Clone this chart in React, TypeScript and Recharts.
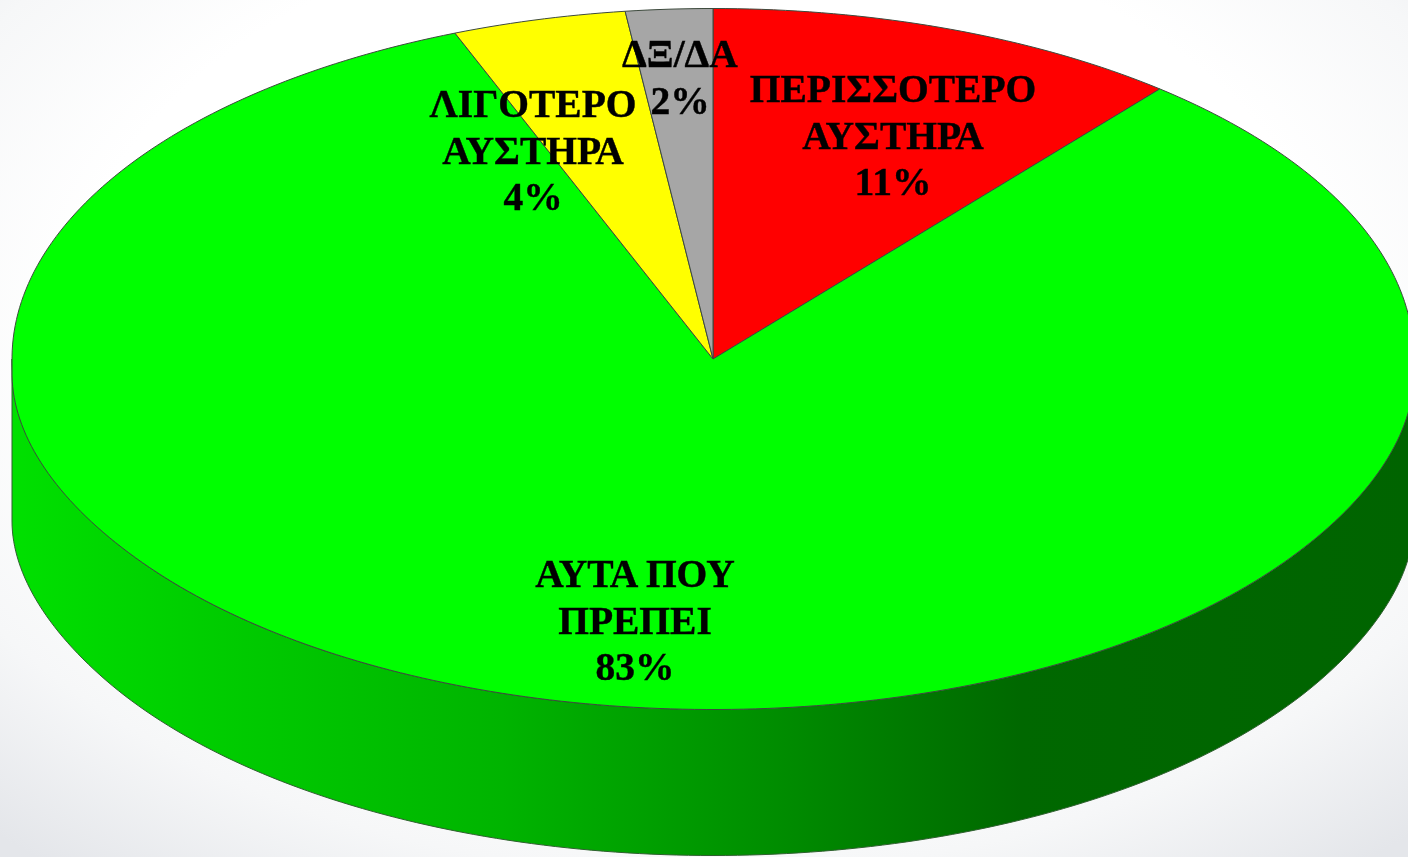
import React from "react";
import { PieChart, Pie } from "recharts";

const WIDTH = 1408;
const HEIGHT = 857;
const CX = 713;
const CY = 359;
const RX = 701;
const SQUASH = 0.5;
const DEPTH = 146;

const categories = ["ΠΕΡΙΣΣΟΤΕΡΟ ΑΥΣΤΗΡΑ", "ΑΥΤΑ ΠΟΥ ΠΡΕΠΕΙ", "ΛΙΓΟΤΕΡΟ ΑΥΣΤΗΡΑ", "ΔΞ/ΔΑ"];
const values = [11, 83, 4, 2];
const colors = ["#ff0000", "#00ff00", "#ffff00", "#a6a6a6"];
const labelLines = [
  ["ΠΕΡΙΣΣΟΤΕΡΟ", "ΑΥΣΤΗΡΑ"],
  ["ΑΥΤΑ ΠΟΥ", "ΠΡΕΠΕΙ"],
  ["ΛΙΓΟΤΕΡΟ", "ΑΥΣΤΗΡΑ"],
  ["ΔΞ/ΔΑ"],
];
// Anchor of each label's first line, relative to the pie centre.
const labelOffsets = [
  [180, -257],
  [-78, 228],
  [-180, -242],
  [-33, -292],
];

const data = categories.map((name, i) => ({ name, value: values[i], fill: colors[i], idx: i }));

const RAD = Math.PI / 180;

// The disc's front edge drops a little lower at its far left and right than a true ellipse.
function bump(a: number, amount: number, reach: number) {
  const s = Math.sin(a * RAD);
  if (s >= 0) return 0;
  const k = Math.max(0, 1 + s / reach);
  return amount * k * k;
}

function rimPoints(cx: number, cy: number, r: number, from: number, to: number, extra: (a: number) => number) {
  const n = Math.max(2, Math.ceil(Math.abs(from - to)));
  const pts: string[] = [];
  for (let i = 0; i <= n; i++) {
    const a = from + ((to - from) * i) / n;
    pts.push(`${cx + r * Math.cos(a * RAD)},${cy - r * SQUASH * Math.sin(a * RAD) + extra(a)}`);
  }
  return pts;
}

function TopSlice(props: any) {
  const { cx, cy, outerRadius: r, startAngle, endAngle, fill } = props;
  const pts = rimPoints(cx, cy, r, startAngle, endAngle, (a) => bump(a, 14, 0.6));
  return (
    <path
      d={`M${cx},${cy} L${pts.join(" L")} Z`}
      fill={fill}
      stroke="#3d4a3d"
      strokeWidth={1}
      strokeLinejoin="round"
    />
  );
}

function WallSlice(props: any) {
  const { cx, cy, outerRadius: r, startAngle, endAngle } = props;
  // Only the part of a slice on the front half of the disc shows a wall.
  const a0 = Math.min(startAngle, 0);
  const a1 = Math.max(endAngle, -180);
  if (a0 <= a1) return null;
  const inner = rimPoints(cx, cy, r, a0, a1, () => 0);
  const outer = rimPoints(cx, cy, r, a1, a0, (a) => DEPTH + bump(a, 16, 0.5));
  const d = `M${inner.join(" L")} L${outer.join(" L")} Z`;
  return (
    <g>
      <defs>
        <linearGradient id="wallShade" gradientUnits="userSpaceOnUse" x1={cx - r} x2={cx + r} y1={0} y2={0}>
          <stop offset="0" stopColor="#00e000" />
          <stop offset="0.15" stopColor="#00cc00" />
          <stop offset="0.35" stopColor="#00b400" />
          <stop offset="0.55" stopColor="#008c00" />
          <stop offset="0.72" stopColor="#006800" />
          <stop offset="1" stopColor="#006400" />
        </linearGradient>
      </defs>
      <path d={d} fill="url(#wallShade)" stroke="#2f5f2f" strokeWidth={1} strokeLinejoin="round" />
    </g>
  );
}

function SliceLabel(props: any) {
  const { cx, cy, index, value } = props;
  const [dx, dy] = labelOffsets[index];
  const lines = [...labelLines[index], `${value}%`];
  return (
    <text
      x={cx + dx}
      y={cy + dy}
      textAnchor="middle"
      fill="#000"
      stroke="#000"
      strokeWidth={0.4}
      fontFamily="'Liberation Serif', serif"
      fontWeight="bold"
      fontSize={39.5}
    >
      {lines.map((t, i) => (
        <tspan key={i} x={cx + dx} dy={i === 0 ? 0 : 46.5}>
          {t}
        </tspan>
      ))}
    </text>
  );
}

export default function App() {
  return (
    <div
      style={{
        position: "absolute",
        left: 0,
        top: 0,
        width: WIDTH,
        height: HEIGHT,
        overflow: "hidden",
        background:
          "radial-gradient(ellipse 75% 80% at 50% 38%, #ffffff 60%, #f6f7f8 80%, #e4e6ea 100%)",
      }}
    >
      <div style={{ filter: "blur(0.7px)" }}>
        <PieChart width={WIDTH} height={HEIGHT} margin={{ top: 0, right: 0, bottom: 0, left: 0 }}>
          <Pie
            data={data}
            dataKey="value"
            nameKey="name"
            cx={CX}
            cy={CY}
            outerRadius={RX}
            startAngle={90}
            endAngle={-270}
            stroke="none"
            isAnimationActive={false}
            shape={WallSlice}
            label={false}
            labelLine={false}
          />
          <Pie
            data={data}
            dataKey="value"
            nameKey="name"
            cx={CX}
            cy={CY}
            outerRadius={RX}
            startAngle={90}
            endAngle={-270}
            isAnimationActive={false}
            shape={TopSlice}
            label={SliceLabel}
            labelLine={false}
          />
        </PieChart>
      </div>
    </div>
  );
}
